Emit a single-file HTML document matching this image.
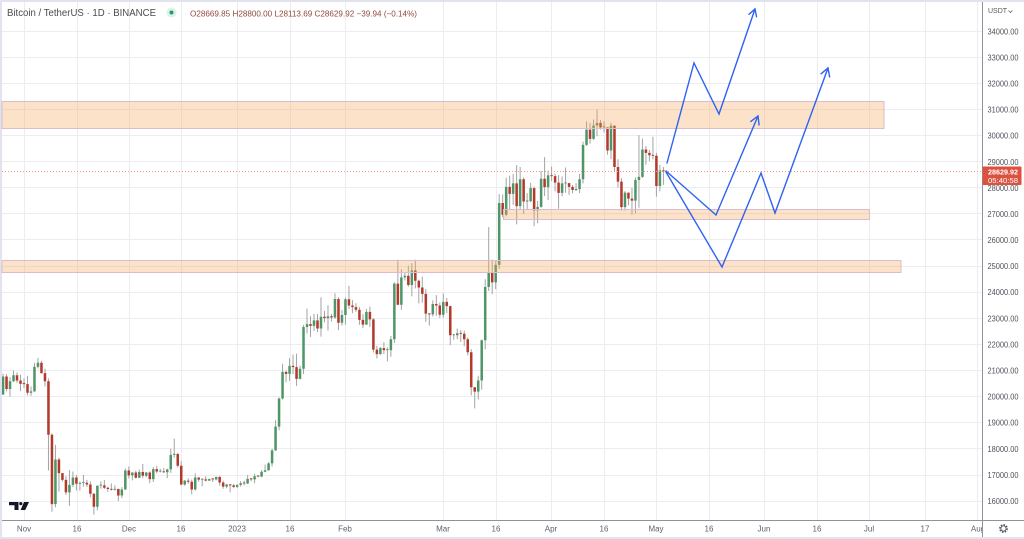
<!DOCTYPE html>
<html><head><meta charset="utf-8">
<style>
html,body{margin:0;padding:0;background:#fff;}
body{width:1024px;height:539px;overflow:hidden;}
svg{display:block;font-family:"Liberation Sans",sans-serif;}
</style></head><body>
<svg width="1024" height="539" viewBox="0 0 1024 539" xmlns="http://www.w3.org/2000/svg">
<defs>
<clipPath id="plot"><rect x="2" y="2" width="980" height="518"/></clipPath>
<clipPath id="taxis"><rect x="0" y="520" width="982" height="19"/></clipPath>
</defs>
<rect width="1024" height="539" fill="#fff"/>
<rect x="0" y="0" width="1024" height="2" fill="#e1e4ee"/>
<rect x="0" y="0" width="2" height="539" fill="#e1e4ee"/>
<rect x="0" y="537" width="1024" height="2" fill="#e1e4ee"/>

<g stroke="#ededf1" stroke-width="1">
<line x1="2" x2="982" y1="31.5" y2="31.5"/>
<line x1="2" x2="982" y1="57.5" y2="57.5"/>
<line x1="2" x2="982" y1="83.5" y2="83.5"/>
<line x1="2" x2="982" y1="109.5" y2="109.5"/>
<line x1="2" x2="982" y1="135.5" y2="135.5"/>
<line x1="2" x2="982" y1="161.5" y2="161.5"/>
<line x1="2" x2="982" y1="187.5" y2="187.5"/>
<line x1="2" x2="982" y1="213.5" y2="213.5"/>
<line x1="2" x2="982" y1="239.5" y2="239.5"/>
<line x1="2" x2="982" y1="266.5" y2="266.5"/>
<line x1="2" x2="982" y1="292.5" y2="292.5"/>
<line x1="2" x2="982" y1="318.5" y2="318.5"/>
<line x1="2" x2="982" y1="344.5" y2="344.5"/>
<line x1="2" x2="982" y1="370.5" y2="370.5"/>
<line x1="2" x2="982" y1="396.5" y2="396.5"/>
<line x1="2" x2="982" y1="422.5" y2="422.5"/>
<line x1="2" x2="982" y1="448.5" y2="448.5"/>
<line x1="2" x2="982" y1="475.5" y2="475.5"/>
<line x1="2" x2="982" y1="501.5" y2="501.5"/>
<line y1="2" y2="520" x1="24.5" x2="24.5"/>
<line y1="2" y2="520" x1="77.5" x2="77.5"/>
<line y1="2" y2="520" x1="129.5" x2="129.5"/>
<line y1="2" y2="520" x1="181.5" x2="181.5"/>
<line y1="2" y2="520" x1="237.5" x2="237.5"/>
<line y1="2" y2="520" x1="290.5" x2="290.5"/>
<line y1="2" y2="520" x1="345.5" x2="345.5"/>
<line y1="2" y2="520" x1="443.5" x2="443.5"/>
<line y1="2" y2="520" x1="496.5" x2="496.5"/>
<line y1="2" y2="520" x1="551.5" x2="551.5"/>
<line y1="2" y2="520" x1="604.5" x2="604.5"/>
<line y1="2" y2="520" x1="656.5" x2="656.5"/>
<line y1="2" y2="520" x1="709.5" x2="709.5"/>
<line y1="2" y2="520" x1="764.5" x2="764.5"/>
<line y1="2" y2="520" x1="817.5" x2="817.5"/>
<line y1="2" y2="520" x1="869.5" x2="869.5"/>
<line y1="2" y2="520" x1="925.5" x2="925.5"/>
<line y1="2" y2="520" x1="977.5" x2="977.5"/>
</g>

<!-- candles: x = index, y = price -->
<g clip-path="url(#plot)">
<g transform="matrix(3.494 0 0 -0.026094 3.036 918.504)">
<path fill="none" stroke="#a3a3a3" stroke-width="1" vector-effect="non-scaling-stroke" d="M0 20880V20060M1 20860V20200M2 20750V20000M3 21000V20560M4 20930V20520M5 20840V20210M6 20700V20330M7 20800V20050M8 20390V20030M9 21300V20180M10 21480V21080M11 21370V20880M12 21070V20390M13 20700V17170M14 18590V15590M15 18150V15760M16 17660V16360M17 17070V16750M18 16950V16230M19 17190V15815M20 17130V16530M21 17000V16400M22 16750V16400M23 17000V16550M24 16810V16540M25 16750V16150M26 16300V15480M27 16280V15640M28 16750V16470M29 16810V16460M30 16540V16350M31 16670V16400M32 16600V16400M33 16480V16000M34 16530V16110M35 17250V16430M36 17320V16860M37 17100V16790M38 17160V16860M39 17200V16880M40 17420V16870M41 17110V16910M42 17140V16680M43 17300V16730M44 17350V17060M45 17230V17090M46 17270V17070M47 17240V16870M48 18000V17080M49 18390V17660M50 17850V17280M51 17530V16600M52 16800V16580M53 16870V16660M54 16820V16260M55 17060V16400M56 16910V16740M57 16870V16560M58 16950V16760M59 16860V16770M60 16860V16730M61 16940V16790M62 16970V16590M63 16780V16470M64 16660V16490M65 16650V16330M66 16650V16490M67 16630V16500M68 16760V16550M69 16780V16600M70 16990V16650M71 16880V16750M72 17040V16680M73 16970V16910M74 17180V16910M75 17400V17100M76 17490V17160M77 18000V17320M78 19100V17920M79 19970V18710M80 21260V19890M81 21000V20550M82 21470V20610M83 21610V20860M84 21650V20410M85 21190V20660M86 22750V20860M87 23370V22420M88 23080V22290M89 23170V22520M90 23160V22470M91 23810V22300M92 23290V22850M93 23500V22530M94 23170V22880M95 23960V22980M96 23810V22550M97 23320V22720M98 23800V22760M99 24250V23360M100 23700V23200M101 23580V23250M102 23430V22750M103 23160V22630M104 23360V22750M105 23450V22670M106 23010V21690M107 21950V21460M108 21900V21600M109 22090V21630M110 21890V21350M111 22330V21530M112 24380V22050M113 25250V23500M114 24880V23330M115 24760V24450M116 25020V24210M117 25120V23840M118 25250V24150M119 24480V23580M120 24600V23600M121 24130V22860M122 23210V22720M123 23690V23070M124 23890V23100M125 23600V23020M126 23950V23020M127 23780V23200M128 23480V21970M129 22400V22180M130 22610V22200M131 22550V22100M132 22530V21930M133 22270V21580M134 21820V20050M135 20370V19550M136 20800V19900M137 22190V20270M138 24500V21810M139 26500V24050M140 25250V23930M141 25210V24120M142 27760V24890M143 27750V26880M144 28390V26910M145 28470V27160M146 28530V27350M147 28870V26600M148 28800V27150M149 28400V27000M150 27800V27160M151 28190V27450M152 28050V26530M153 27500V26640M154 28650V27240M155 29180V27690M156 28660V27530M157 28820V28260M158 28530V27870M159 28490V27200M160 28440V27680M161 28780V27820M162 28190V27730M163 28110V27790M164 28180V27880M165 28530V27800M166 29770V28170M167 30550V29610M168 30490V29690M169 30620V29840M170 31000V29980M171 30600V30230M172 30550V30120M173 30320V29270M174 30490V29100M175 30410V28600M176 29100V28010M177 28370V27130M178 27880V27130M179 27820V27330M180 28000V26970M181 28400V27020M182 30020V27240M183 29890V28380M184 29600V28890M185 29450V29030M186 29960V29090M187 29340V27660M188 28880V27870M189 28800V28110"/>
<path fill="#4e9668" d="M-.36 20080h.72V20770h-.72ZM1.64 20290h.72V20590h-.72ZM2.64 20590h.72V20820h-.72ZM7.64 20150h.72V20200h-.72ZM8.64 20200h.72V21140h-.72ZM9.64 21140h.72V21300h-.72ZM14.64 15880h.72V17590h-.72ZM18.64 16330h.72V16620h-.72ZM19.64 16620h.72V16900h-.72ZM21.64 16660h.72V16695h-.72ZM22.64 16690h.72V16725h-.72ZM26.64 15780h.72V16590h-.72ZM27.64 16590h.72V16625h-.72ZM31.64 16430h.72V16465h-.72ZM33.64 16210h.72V16440h-.72ZM34.64 16440h.72V17170h-.72ZM36.64 16980h.72V17090h-.72ZM38.64 16890h.72V17110h-.72ZM40.64 16970h.72V17090h-.72ZM42.64 16840h.72V17220h-.72ZM44.64 17130h.72V17165h-.72ZM46.64 17100h.72V17210h-.72ZM47.64 17210h.72V17770h-.72ZM48.64 17770h.72V17805h-.72ZM51.64 16630h.72V16780h-.72ZM54.64 16440h.72V16900h-.72ZM56.64 16820h.72V16855h-.72ZM58.64 16780h.72V16840h-.72ZM60.64 16830h.72V16920h-.72ZM63.64 16550h.72V16630h-.72ZM66.64 16540h.72V16620h-.72ZM67.64 16620h.72V16680h-.72ZM69.64 16670h.72V16850h-.72ZM71.64 16830h.72V16950h-.72ZM73.64 16940h.72V17120h-.72ZM74.64 17120h.72V17180h-.72ZM75.64 17180h.72V17440h-.72ZM76.64 17440h.72V17940h-.72ZM77.64 17940h.72V18850h-.72ZM78.64 18850h.72V19930h-.72ZM79.64 19930h.72V20950h-.72ZM81.64 20870h.72V21180h-.72ZM84.64 20680h.72V21070h-.72ZM85.64 21070h.72V22670h-.72ZM86.64 22670h.72V22780h-.72ZM88.64 22710h.72V22920h-.72ZM90.64 22610h.72V23060h-.72ZM92.64 23010h.72V23080h-.72ZM94.64 23030h.72V23740h-.72ZM96.64 22830h.72V23130h-.72ZM97.64 23130h.72V23730h-.72ZM103.64 22760h.72V23250h-.72ZM107.64 21630h.72V21860h-.72ZM109.64 21780h.72V21815h-.72ZM110.64 21780h.72V22200h-.72ZM111.64 22200h.72V24330h-.72ZM113.64 23520h.72V24570h-.72ZM114.64 24570h.72V24630h-.72ZM116.64 24280h.72V24840h-.72ZM122.64 23150h.72V23550h-.72ZM125.64 23140h.72V23630h-.72ZM128.64 22350h.72V22385h-.72ZM129.64 22350h.72V22430h-.72ZM135.64 20190h.72V20620h-.72ZM136.64 20620h.72V22160h-.72ZM137.64 22160h.72V24200h-.72ZM138.64 24200h.72V24750h-.72ZM140.64 24380h.72V25050h-.72ZM141.64 25050h.72V27420h-.72ZM143.64 26970h.72V28040h-.72ZM145.64 27770h.72V28170h-.72ZM147.64 27300h.72V28330h-.72ZM149.64 27480h.72V27515h-.72ZM150.64 27490h.72V27990h-.72ZM152.64 27140h.72V27270h-.72ZM153.64 27270h.72V28350h-.72ZM155.64 28030h.72V28480h-.72ZM159.64 27810h.72V28170h-.72ZM160.64 28170h.72V28205h-.72ZM163.64 27920h.72V27955h-.72ZM164.64 27950h.72V28330h-.72ZM165.64 28330h.72V29650h-.72ZM166.64 29650h.72V30230h-.72ZM168.64 29880h.72V30390h-.72ZM169.64 30390h.72V30490h-.72ZM171.64 30320h.72V30355h-.72ZM173.64 29430h.72V30380h-.72ZM177.64 27260h.72V27820h-.72ZM180.64 27510h.72V28300h-.72ZM181.64 28300h.72V28420h-.72ZM182.64 28420h.72V29470h-.72ZM187.64 28070h.72V28670h-.72Z"/>
<path fill="#b3392b" d="M.64 20290h.72V20770h-.72ZM3.64 20620h.72V20820h-.72ZM4.64 20490h.72V20620h-.72ZM5.64 20480h.72V20515h-.72ZM6.64 20150h.72V20480h-.72ZM10.64 20900h.72V21300h-.72ZM11.64 20590h.72V20900h-.72ZM12.64 18540h.72V20590h-.72ZM13.64 15880h.72V18540h-.72ZM15.64 17070h.72V17590h-.72ZM16.64 16810h.72V17070h-.72ZM17.64 16330h.72V16810h-.72ZM20.64 16660h.72V16900h-.72ZM23.64 16630h.72V16700h-.72ZM24.64 16280h.72V16630h-.72ZM25.64 15780h.72V16280h-.72ZM28.64 16510h.72V16600h-.72ZM29.64 16460h.72V16510h-.72ZM30.64 16430h.72V16465h-.72ZM32.64 16210h.72V16460h-.72ZM35.64 16980h.72V17170h-.72ZM37.64 16890h.72V17090h-.72ZM39.64 16970h.72V17110h-.72ZM41.64 16840h.72V17090h-.72ZM43.64 17130h.72V17220h-.72ZM45.64 17100h.72V17135h-.72ZM49.64 17350h.72V17800h-.72ZM50.64 16630h.72V17350h-.72ZM52.64 16740h.72V16780h-.72ZM53.64 16440h.72V16740h-.72ZM55.64 16820h.72V16900h-.72ZM57.64 16780h.72V16830h-.72ZM59.64 16830h.72V16865h-.72ZM61.64 16710h.72V16920h-.72ZM62.64 16550h.72V16710h-.72ZM64.64 16600h.72V16635h-.72ZM65.64 16540h.72V16600h-.72ZM68.64 16670h.72V16705h-.72ZM70.64 16830h.72V16865h-.72ZM72.64 16940h.72V16975h-.72ZM80.64 20870h.72V20950h-.72ZM82.64 21130h.72V21180h-.72ZM83.64 20680h.72V21130h-.72ZM87.64 22710h.72V22780h-.72ZM89.64 22610h.72V22920h-.72ZM91.64 23010h.72V23060h-.72ZM93.64 23030h.72V23080h-.72ZM95.64 22830h.72V23740h-.72ZM98.64 23490h.72V23730h-.72ZM99.64 23430h.72V23490h-.72ZM100.64 23330h.72V23430h-.72ZM101.64 22940h.72V23330h-.72ZM102.64 22760h.72V22940h-.72ZM104.64 22960h.72V23250h-.72ZM105.64 21800h.72V22960h-.72ZM106.64 21630h.72V21800h-.72ZM108.64 21780h.72V21860h-.72ZM112.64 23520h.72V24330h-.72ZM115.64 24280h.72V24630h-.72ZM117.64 24440h.72V24840h-.72ZM118.64 24180h.72V24440h-.72ZM119.64 23940h.72V24180h-.72ZM120.64 23180h.72V23940h-.72ZM121.64 23150h.72V23185h-.72ZM123.64 23490h.72V23550h-.72ZM124.64 23140h.72V23490h-.72ZM126.64 23470h.72V23630h-.72ZM127.64 22350h.72V23470h-.72ZM130.64 22410h.72V22445h-.72ZM131.64 22200h.72V22410h-.72ZM132.64 21700h.72V22200h-.72ZM133.64 20360h.72V21700h-.72ZM134.64 20190h.72V20360h-.72ZM139.64 24380h.72V24750h-.72ZM142.64 26970h.72V27420h-.72ZM144.64 27770h.72V28040h-.72ZM146.64 27300h.72V28170h-.72ZM148.64 27480h.72V28330h-.72ZM151.64 27140h.72V27990h-.72ZM154.64 28030h.72V28350h-.72ZM156.64 28450h.72V28485h-.72ZM157.64 28200h.72V28450h-.72ZM158.64 27810h.72V28200h-.72ZM161.64 28040h.72V28180h-.72ZM162.64 27920h.72V28040h-.72ZM167.64 29880h.72V30230h-.72ZM170.64 30320h.72V30490h-.72ZM172.64 29430h.72V30320h-.72ZM174.64 28800h.72V30380h-.72ZM175.64 28240h.72V28800h-.72ZM176.64 27260h.72V28240h-.72ZM178.64 27590h.72V27820h-.72ZM179.64 27510h.72V27590h-.72ZM183.64 29340h.72V29470h-.72ZM184.64 29250h.72V29340h-.72ZM185.64 29230h.72V29265h-.72ZM186.64 28070h.72V29230h-.72ZM188.64 28630h.72V28670h-.72Z"/>
</g>
</g>

<g fill="rgba(245,165,85,0.32)" stroke="#d9bccd" stroke-width="1">
<rect x="2" y="101.5" width="882" height="27"/>
<rect x="503.5" y="209.5" width="366" height="10"/>
<rect x="2" y="260.5" width="899" height="12"/>
</g>

<line x1="2" x2="982" y1="171.5" y2="171.5" stroke="#ef9a8a" stroke-width="1" stroke-dasharray="1,2"/>

<g fill="none" stroke="#2f62f2" stroke-width="1.4" stroke-linejoin="miter" stroke-linecap="round">
<polyline points="667,163 694,63 719,114 755,9"/>
<polyline points="749,14.3 755,9 756.5,16.8"/>
<polyline points="666,171 716,215 758,116"/>
<polyline points="750.8,121.4 758,116 759.1,124.9"/>
<polyline points="666,172 722,267 761,173 775,213 828,68"/>
<polyline points="821.1,73.8 828,68 829.6,76.9"/>
</g>

<text x="7" y="16" font-size="10" fill="#4b4b4f" textLength="149" lengthAdjust="spacingAndGlyphs">Bitcoin / TetherUS · 1D · BINANCE</text>
<circle cx="171.5" cy="12.5" r="5" fill="#dcf1e8"/>
<circle cx="171.5" cy="12.5" r="2" fill="#1f9d6d"/>
<text x="190" y="16.5" font-size="8" fill="#8e4a3f" textLength="227" lengthAdjust="spacingAndGlyphs">O28669.85 H28800.00 L28113.69 C28629.92 −39.94 (−0.14%)</text>

<g fill="#131722">
<path d="M9 502 H18.5 V510 H14.5 V505.2 H9 Z"/>
<circle cx="20.8" cy="503.6" r="1.6"/>
<path d="M24 502 H29 L25.2 510 H20.6 Z"/>
</g>

<line x1="982.5" x2="982.5" y1="2" y2="537" stroke="#8f929b" stroke-width="1"/>
<line x1="2" x2="1024" y1="520.5" y2="520.5" stroke="#8f929b" stroke-width="1"/>

<g font-size="8" fill="#4f525b">
<text x="988" y="13" font-size="7" fill="#555">USDT</text>
<path d="M1008.5 10.5 L1010.5 12.5 L1012.5 10.5" fill="none" stroke="#666" stroke-width="0.8"/>
<text x="987.5" y="34.3" textLength="31" lengthAdjust="spacingAndGlyphs">34000.00</text>
<text x="987.5" y="60.4" textLength="31" lengthAdjust="spacingAndGlyphs">33000.00</text>
<text x="987.5" y="86.5" textLength="31" lengthAdjust="spacingAndGlyphs">32000.00</text>
<text x="987.5" y="112.6" textLength="31" lengthAdjust="spacingAndGlyphs">31000.00</text>
<text x="987.5" y="138.7" textLength="31" lengthAdjust="spacingAndGlyphs">30000.00</text>
<text x="987.5" y="164.8" textLength="31" lengthAdjust="spacingAndGlyphs">29000.00</text>
<text x="987.5" y="190.9" textLength="31" lengthAdjust="spacingAndGlyphs">28000.00</text>
<text x="987.5" y="217.0" textLength="31" lengthAdjust="spacingAndGlyphs">27000.00</text>
<text x="987.5" y="243.0" textLength="31" lengthAdjust="spacingAndGlyphs">26000.00</text>
<text x="987.5" y="269.1" textLength="31" lengthAdjust="spacingAndGlyphs">25000.00</text>
<text x="987.5" y="295.2" textLength="31" lengthAdjust="spacingAndGlyphs">24000.00</text>
<text x="987.5" y="321.3" textLength="31" lengthAdjust="spacingAndGlyphs">23000.00</text>
<text x="987.5" y="347.4" textLength="31" lengthAdjust="spacingAndGlyphs">22000.00</text>
<text x="987.5" y="373.5" textLength="31" lengthAdjust="spacingAndGlyphs">21000.00</text>
<text x="987.5" y="399.6" textLength="31" lengthAdjust="spacingAndGlyphs">20000.00</text>
<text x="987.5" y="425.7" textLength="31" lengthAdjust="spacingAndGlyphs">19000.00</text>
<text x="987.5" y="451.8" textLength="31" lengthAdjust="spacingAndGlyphs">18000.00</text>
<text x="987.5" y="477.9" textLength="31" lengthAdjust="spacingAndGlyphs">17000.00</text>
<text x="987.5" y="504.0" textLength="31" lengthAdjust="spacingAndGlyphs">16000.00</text>
</g>

<rect x="982.5" y="166.5" width="39" height="18.5" fill="#dc5240" rx="1"/>
<text x="988" y="174.5" font-size="7.5" font-weight="bold" fill="#fff" textLength="30" lengthAdjust="spacingAndGlyphs">28629.92</text>
<text x="988" y="183" font-size="7.5" fill="#fff" textLength="30" lengthAdjust="spacingAndGlyphs">05:40:58</text>

<g font-size="8" fill="#5d606b" text-anchor="middle" clip-path="url(#taxis)">
<text x="24" y="531.5">Nov</text>
<text x="77" y="531.5">16</text>
<text x="129" y="531.5">Dec</text>
<text x="181" y="531.5">16</text>
<text x="237" y="531.5">2023</text>
<text x="290" y="531.5">16</text>
<text x="345" y="531.5">Feb</text>
<text x="443" y="531.5">Mar</text>
<text x="496" y="531.5">16</text>
<text x="551" y="531.5">Apr</text>
<text x="604" y="531.5">16</text>
<text x="656" y="531.5">May</text>
<text x="709" y="531.5">16</text>
<text x="764" y="531.5">Jun</text>
<text x="817" y="531.5">16</text>
<text x="869" y="531.5">Jul</text>
<text x="925" y="531.5">17</text>
<text x="978" y="531.5">Aug</text>
</g>

<g fill="none" stroke="#4f525b">
<circle cx="1003.5" cy="528.5" r="3.6" stroke-width="1.6" stroke-dasharray="1.6,1.2"/>
<circle cx="1003.5" cy="528.5" r="2.6" stroke-width="0.8"/>
</g>
</svg>
</body></html>
